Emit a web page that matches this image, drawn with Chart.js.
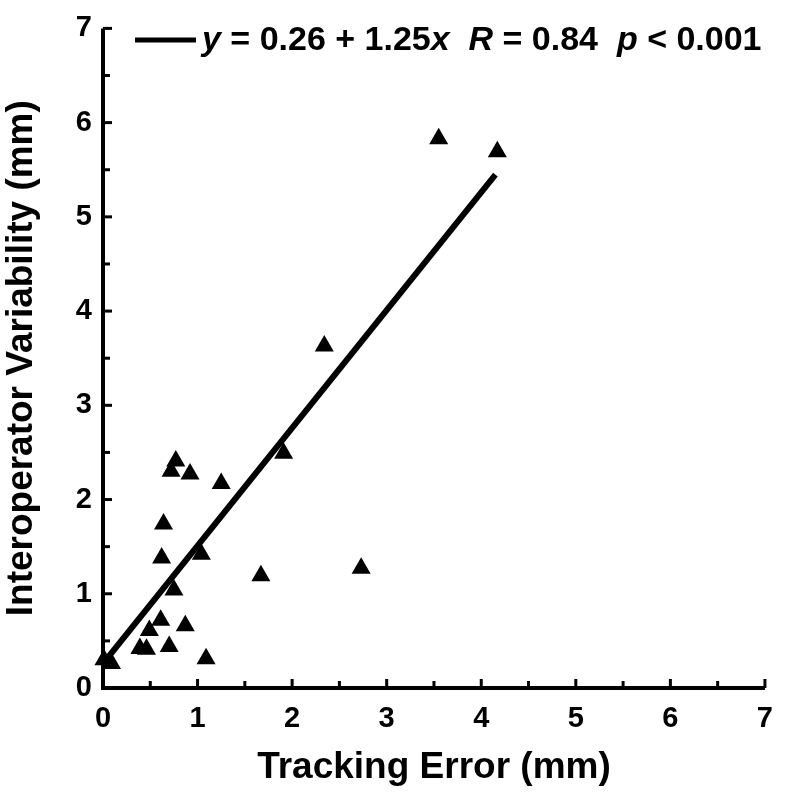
<!DOCTYPE html>
<html>
<head>
<meta charset="utf-8">
<script src="https://cdn.jsdelivr.net/npm/chart.js@4.4.1/dist/chart.umd.min.js"></script>
<style>
  html, body { margin: 0; padding: 0; background: #fff; }
  #wrap { width: 787px; height: 798px; position: relative; }
</style>
</head>
<body>
<div id="wrap"><canvas id="c" width="787" height="798"></canvas></div>
<script>
// ---- data ----
const trackingError = [3.55, 4.17, 2.34, 1.91, 2.73, 1.67, 1.25, 0.92, 0.77, 0.72, 0.64, 0.62, 1.04, 0.75, 0.87, 0.61, 0.49, 0.39, 0.46, 0.70, 1.09, 0.01, 0.09];
const interoperatorVar = [5.83, 5.69, 3.63, 2.49, 1.27, 1.19, 2.17, 2.27, 2.41, 2.30, 1.74, 1.38, 1.42, 1.04, 0.66, 0.72, 0.61, 0.42, 0.41, 0.44, 0.31, 0.30, 0.26];
const fitIntercept = 0.26;
const fitSlope = 1.25;
const fitRangeX = [0, 4.15];
const tickValues = [0, 1, 2, 3, 4, 5, 6, 7];
const minorTickValues = [0.5, 1.5, 2.5, 3.5, 4.5, 5.5, 6.5];
const xTitle = 'Tracking Error (mm)';
const yTitle = 'Interoperator Variability (mm)';

const FONT = '"Liberation Sans", Arial, sans-serif';

const points = trackingError.map((x, i) => ({ x: x, y: interoperatorVar[i] }));
const fitLine = fitRangeX.map(x => ({ x: x, y: fitIntercept + fitSlope * x }));

const innerTicks = {
  id: 'innerTicks',
  afterDatasetsDraw(chart) {
    const ctx = chart.ctx;
    const xs = chart.scales.x, ys = chart.scales.y;
    const x0 = xs.getPixelForValue(0), y0 = ys.getPixelForValue(0);
    ctx.save();
    ctx.strokeStyle = '#000';
    ctx.lineWidth = 3;
    const drawX = (v, len) => {
      const p = xs.getPixelForValue(v);
      ctx.beginPath(); ctx.moveTo(p, y0); ctx.lineTo(p, y0 - len); ctx.stroke();
    };
    const drawY = (v, len) => {
      const p = ys.getPixelForValue(v);
      ctx.beginPath(); ctx.moveTo(x0, p); ctx.lineTo(x0 + len, p); ctx.stroke();
    };
    tickValues.forEach(v => { drawX(v, 9); drawY(v, 9); });
    minorTickValues.forEach(v => { drawX(v, 7); drawY(v, 7); });
    ctx.lineWidth = 4;
    ctx.beginPath();
    ctx.moveTo(x0, ys.getPixelForValue(7));
    ctx.lineTo(x0, y0);
    ctx.lineTo(xs.getPixelForValue(7), y0);
    ctx.stroke();
    ctx.restore();
  }
};

const eqLegend = {
  id: 'eqLegend',
  afterDraw(chart) {
    const ctx = chart.ctx;
    ctx.save();
    const yMid = 41;
    ctx.strokeStyle = '#000';
    ctx.lineWidth = 5;
    ctx.beginPath(); ctx.moveTo(135, yMid - 1); ctx.lineTo(196, yMid - 1); ctx.stroke();
    const parts = [
      ['y', true], [' = 0.26 + 1.25', false], ['x', true], ['  ', false],
      ['R', true], [' = 0.84  ', false], ['p', true], [' < 0.001', false]
    ];
    let x = 202;
    ctx.fillStyle = '#000';
    ctx.textBaseline = 'middle';
    parts.forEach(([t, it]) => {
      ctx.font = (it ? 'italic ' : '') + 'bold 34px ' + FONT;
      ctx.fillText(t, x, yMid);
      x += ctx.measureText(t).width;
    });
    ctx.restore();
  }
};

new Chart(document.getElementById('c'), {
  type: 'scatter',
  data: {
    datasets: [
      {
        label: 'data',
        data: points,
        pointStyle: 'triangle',
        pointRadius: 11,
        pointHoverRadius: 11,
        backgroundColor: '#000',
        borderColor: '#000',
        borderWidth: 0,
        clip: false,
        order: 1
      },
      {
        label: 'fit',
        data: fitLine,
        showLine: true,
        borderColor: '#000',
        borderWidth: 6,
        pointRadius: 0,
        fill: false,
        order: 2
      }
    ]
  },
  options: {
    responsive: false,
    animation: false,
    events: [],
    layout: { padding: { left: 0, top: 14, right: 16, bottom: 0 } },
    plugins: { legend: { display: false }, tooltip: { enabled: false } },
    scales: {
      x: {
        type: 'linear', min: 0, max: 7,
        afterFit(s) { s.height = 110; },
        afterBuildTicks(s) { s.ticks = tickValues.map(v => ({ value: v })); },
        grid: { display: false, drawTicks: false },
        border: { display: false },
        ticks: { color: '#000', font: { family: FONT, size: 29, weight: 'bold' }, padding: 14, maxRotation: 0 },
        title: { display: true, text: xTitle, color: '#000', font: { family: FONT, size: 37, weight: 'bold' }, padding: { top: 0, bottom: 8 } }
      },
      y: {
        type: 'linear', min: 0, max: 7,
        afterFit(s) { s.width = 103; },
        afterBuildTicks(s) { s.ticks = tickValues.map(v => ({ value: v })); },
        grid: { display: false, drawTicks: false },
        border: { display: false },
        ticks: { color: '#000', font: { family: FONT, size: 29, weight: 'bold' }, padding: 11 },
        title: { display: true, text: yTitle, color: '#000', font: { family: FONT, size: 37, weight: 'bold' }, padding: { top: 0, bottom: 0 } }
      }
    }
  },
  plugins: [innerTicks, eqLegend]
});
</script>
</body>
</html>
